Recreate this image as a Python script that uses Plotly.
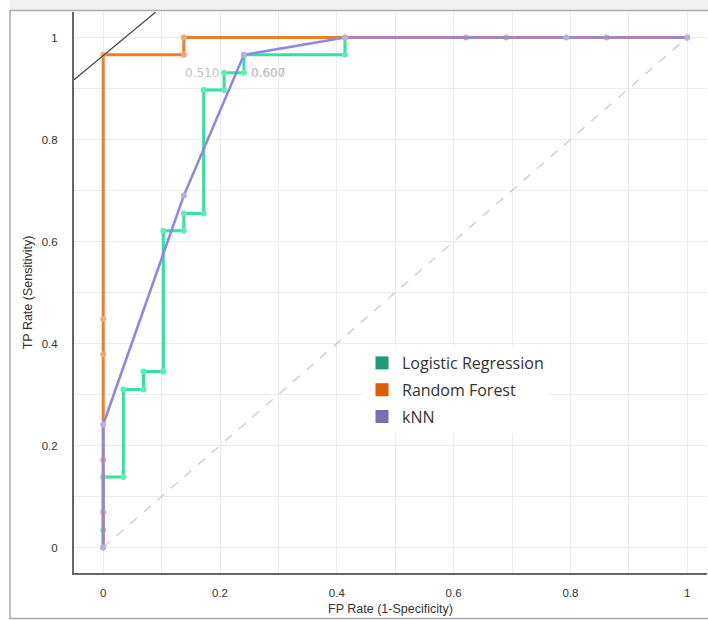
import plotly.graph_objects as go

# ---- data ----
lr_fpr = [0, 0, 0, 0.0345, 0.0345, 0.069, 0.069, 0.103, 0.103, 0.138, 0.138, 0.172, 0.172, 0.207, 0.207, 0.241, 0.241, 0.414, 0.414, 1.0]
lr_tpr = [0, 0.034, 0.138, 0.138, 0.310, 0.310, 0.345, 0.345, 0.621, 0.621, 0.655, 0.655, 0.897, 0.897, 0.931, 0.931, 0.966, 0.966, 1.0, 1.0]

rf_fpr = [0, 0, 0, 0, 0, 0, 0.138, 0.138, 0.621, 0.690, 0.862, 1.0]
rf_tpr = [0, 0.069, 0.172, 0.379, 0.448, 0.966, 0.966, 1.0, 1.0, 1.0, 1.0, 1.0]

knn_fpr = [0, 0, 0.138, 0.241, 0.414, 0.793, 1.0]
knn_tpr = [0, 0.241, 0.690, 0.966, 1.0, 1.0, 1.0]

diag_x = [0, 1]
diag_y = [0, 1]

iso_x = [-0.05, 0.09]
iso_y = [0.917, 1.05]

series_names = ["Logistic Regression", "Random Forest", "kNN"]
legend_colors = ["#1b9e77", "#d95f02", "#7570b3"]
line_colors = ["#33e39c", "#f27c28", "#8e88e2"]
marker_colors = ["#5cf0b4", "#f8a86c", "#b4b0f0"]

threshold_labels = [("0.510", 0.207, 0.931, "right"), ("0.600", 0.241, 0.931, "left"), ("0.607", 0.241, 0.931, "left")]

fig = go.Figure()

fig.add_trace(go.Scatter(x=diag_x, y=diag_y, mode="lines",
                         line=dict(color="#c8c8c8", width=1.2, dash="dash"),
                         showlegend=False, hoverinfo="skip"))

for fx, ty, lc, mc, w in [(lr_fpr, lr_tpr, line_colors[0], marker_colors[0], 3),
                          (rf_fpr, rf_tpr, line_colors[1], marker_colors[1], 3),
                          (knn_fpr, knn_tpr, line_colors[2], marker_colors[2], 2.6)]:
    fig.add_trace(go.Scatter(x=fx, y=ty, mode="lines+markers",
                             line=dict(color=lc, width=w),
                             marker=dict(color=mc, size=6),
                             showlegend=False))

fig.add_trace(go.Scatter(x=iso_x, y=iso_y, mode="lines",
                         line=dict(color="#404040", width=1.2),
                         showlegend=False, hoverinfo="skip"))

for i, (name, col) in enumerate(zip(series_names, legend_colors)):
    fig.add_trace(go.Scatter(x=[None], y=[None], mode="markers", name=name,
                             legendgroup=f"g{i}",
                             marker=dict(symbol="square", size=13, color=col)))

for txt, x, y, anc in threshold_labels:
    fig.add_annotation(x=x, y=y, text=txt, showarrow=False, xanchor=anc,
                       xshift=-3 if anc == "right" else 5,
                       font=dict(family="DejaVu Sans", size=12, color="#c4c4c4"))

W, H = 708, 620
L, R, T, B = 74, 1, 12, 47
pw, ph = W - L - R, H - T - B

def px_x(p):
    return (p - L) / pw

def px_y(p):
    return (H - B - p) / ph

fig.add_shape(type="rect", xref="paper", yref="paper",
              x0=px_x(10), x1=px_x(720), y0=px_y(10), y1=px_y(-5),
              fillcolor="#f0f0f0", line=dict(width=0), layer="below")
fig.add_shape(type="rect", xref="paper", yref="paper",
              x0=px_x(10), x1=px_x(720), y0=px_y(618.5), y1=px_y(10.5),
              fillcolor="rgba(0,0,0,0)", line=dict(color="#ababab", width=1.5))

axis_common = dict(
    showline=True, linecolor="#666666", linewidth=2, mirror=False,
    showgrid=True, gridcolor="#ececec", gridwidth=1,
    zeroline=False, ticks="",
    tickfont=dict(family="Liberation Sans", size=11.5, color="#333333"),
    minor=dict(dtick=0.1, showgrid=True, gridcolor="#ececec", gridwidth=1),
    dtick=0.2, tick0=0,
)

fig.update_layout(
    width=W, height=H,
    margin=dict(l=L, r=R, t=T, b=B, pad=0),
    paper_bgcolor="white", plot_bgcolor="white",
    xaxis=dict(range=[-0.05, 1.0339], ticklabelstandoff=8,
               title=dict(text="FP Rate (1-Specificity)", standoff=6,
                          font=dict(family="Liberation Sans", size=12.5, color="#333333")),
               **axis_common),
    yaxis=dict(range=[-0.05, 1.05], ticklabelstandoff=12,
               title=dict(text="TP Rate (Sensitivity)", standoff=6,
                          font=dict(family="Liberation Sans", size=12.5, color="#333333")),
               **axis_common),
    legend=dict(x=px_x(362), y=px_y(346), xanchor="left", yanchor="top",
                bgcolor="rgba(255,255,255,0.85)", tracegroupgap=3,
                font=dict(family="Open Sans", size=16, color="#333333")),
    showlegend=True,
)

fig.write_html("out.html", config={"displayModeBar": False},
               post_script="document.body.style.margin='0px';document.body.style.overflow='hidden';")
